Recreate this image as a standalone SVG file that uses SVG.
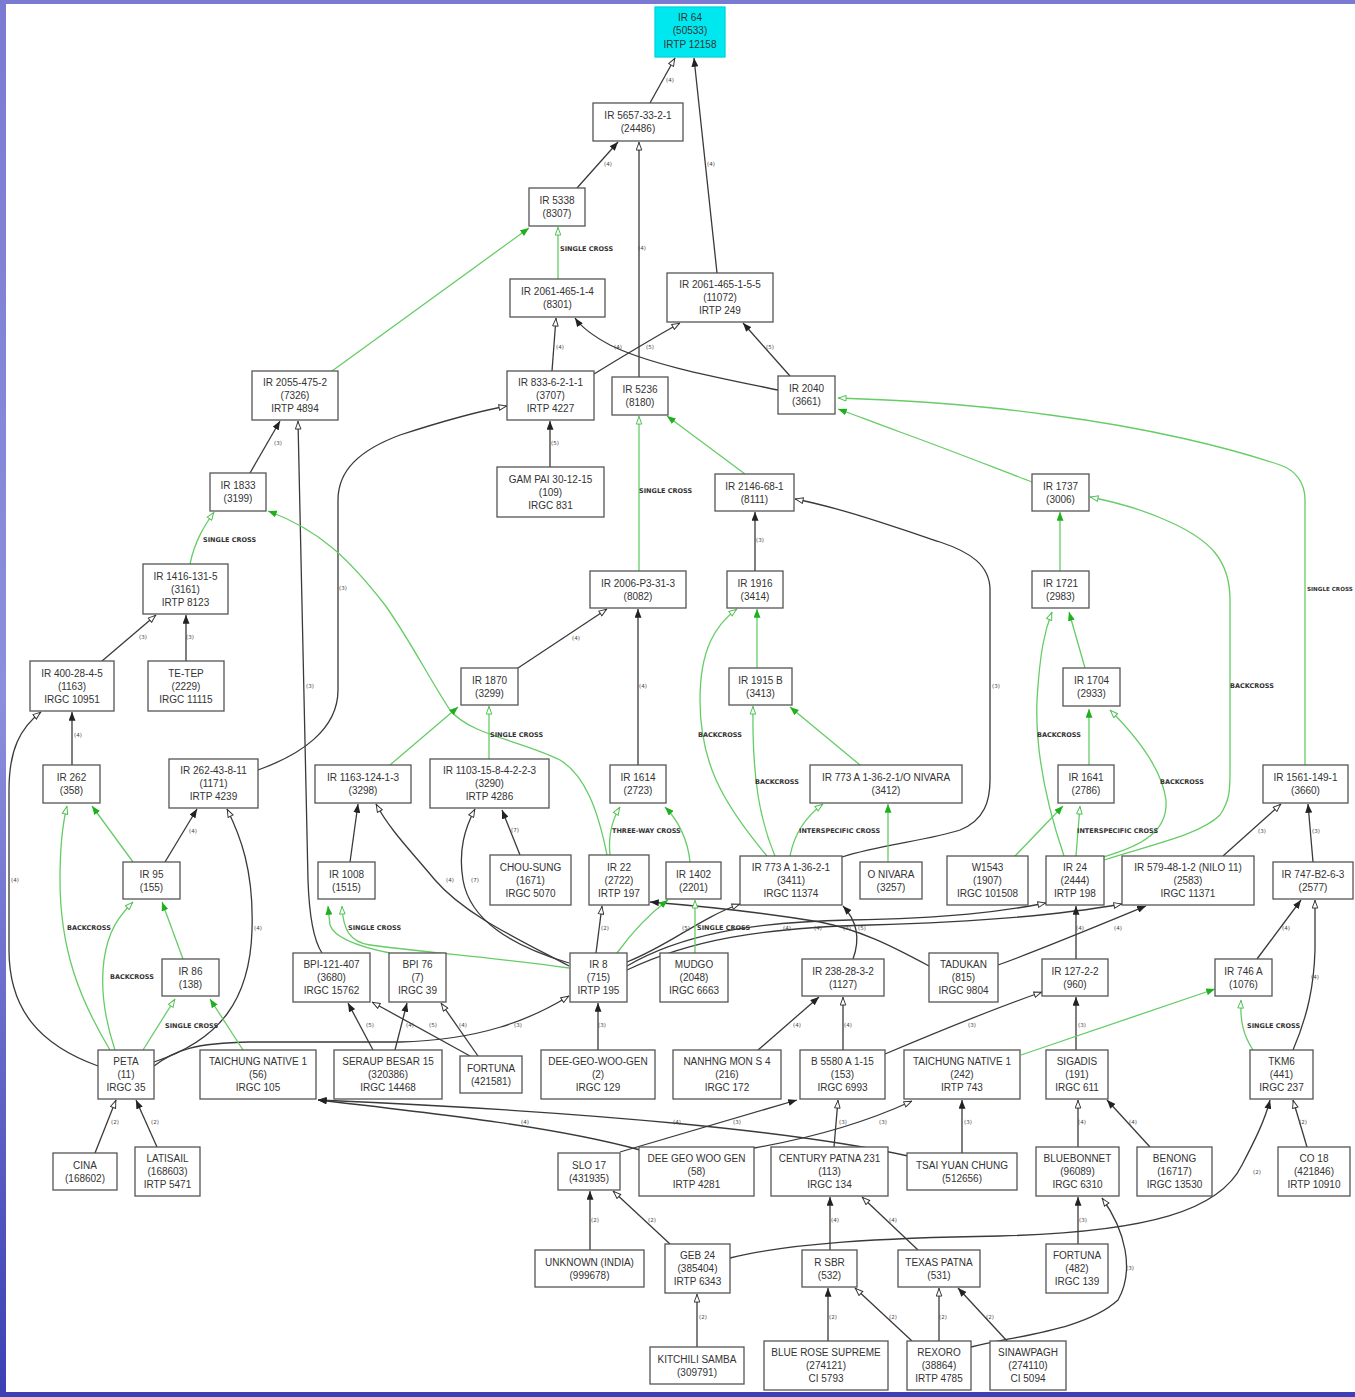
<svg xmlns="http://www.w3.org/2000/svg" width="1355" height="1397" viewBox="0 0 1355 1397">
<defs>
<linearGradient id="bg" x1="0" y1="0" x2="0" y2="1">
<stop offset="0" stop-color="#7a7ad2"/><stop offset="0.5" stop-color="#8c8fdc"/><stop offset="1" stop-color="#3c40b4"/>
</linearGradient>
<marker id="af" viewBox="0 0 10 8" refX="10" refY="4" markerWidth="9" markerHeight="7" markerUnits="userSpaceOnUse" orient="auto"><path d="M0,0 L10,4 L0,8 z" fill="#222"/></marker>
<marker id="ao" viewBox="0 0 10 8" refX="10" refY="4" markerWidth="9" markerHeight="7" markerUnits="userSpaceOnUse" orient="auto"><path d="M0.8,0.8 L9.3,4 L0.8,7.2 z" fill="#fff" stroke="#333" stroke-width="1.1"/></marker>
<marker id="gf" viewBox="0 0 10 8" refX="10" refY="4" markerWidth="9" markerHeight="7" markerUnits="userSpaceOnUse" orient="auto"><path d="M0,0 L10,4 L0,8 z" fill="#1fb01f"/></marker>
<marker id="go" viewBox="0 0 10 8" refX="10" refY="4" markerWidth="9" markerHeight="7" markerUnits="userSpaceOnUse" orient="auto"><path d="M0.8,0.8 L9.3,4 L0.8,7.2 z" fill="#fff" stroke="#4cbf4c" stroke-width="1.1"/></marker>
</defs>
<style>
.n rect{fill:#fff;stroke:#555;stroke-width:1.3}
.n text{font-family:"Liberation Sans",Arial,sans-serif;font-size:10px;fill:#333;text-anchor:middle}
.e{fill:none;stroke:#3a3a3a;stroke-width:1.3}
.ef{marker-end:url(#af)}
.eo{marker-end:url(#ao)}
.g{fill:none;stroke:#66cc66;stroke-width:1.3}
.gf{marker-end:url(#gf)}
.go{marker-end:url(#go)}
.el{font-family:"DejaVu Sans",sans-serif;font-size:5.5px;fill:#444;text-anchor:middle}
.xl{font-family:"DejaVu Sans",sans-serif;font-size:6.5px;font-weight:bold;fill:#333}
</style>
<rect x="0" y="0" width="1355" height="1397" fill="url(#bg)"/>
<rect x="6" y="4" width="1349" height="1388" fill="#fff"/>

<g id="connectors">
<path class="e eo" d="M650,103 L675,58"/>
<path class="e ef" d="M717,273 L694,58"/>
<path class="e ef" d="M577,188 L618,142"/>
<path class="e eo" d="M639,377 L639,142"/>
<path class="e eo" d="M552,371 L556,318"/>
<path class="e eo" d="M594,374 C620,358 650,340 680,323"/>
<path class="e ef" d="M778,390 C720,378 650,365 610,345 C595,337 582,328 575,318"/>
<path class="e ef" d="M790,376 L743,323"/>
<path class="e ef" d="M550,467 L550,421"/>
<path class="e eo" d="M258,770 C300,755 338,730 338,690 L338,500 C338,470 360,450 400,435 C440,422 475,412 507,406"/>
<path class="e ef" d="M250,473 L280,421"/>
<path class="e eo" d="M322,953 C312,938 309,910 308,880 L298,421"/>
<path class="e eo" d="M102,661 L156,615"/>
<path class="e ef" d="M186,661 L186,615"/>
<path class="e ef" d="M72,765 L72,712"/>
<path class="e eo" d="M98,1066 C40,1045 9,1010 9,950 L9,790 C9,750 20,728 41,712"/>
<path class="e ef" d="M165,862 L197,809"/>
<path class="e eo" d="M154,1062 C220,1040 250,1000 252,930 C254,870 240,835 227,809"/>
<path class="e eo" d="M154,1066 C175,1050 195,1043 250,1042 L400,1042 C480,1040 530,1020 569,996"/>
<path class="e eo" d="M596,953 L602,906"/>
<path class="e eo" d="M569,966 C520,940 465,915 435,880 C410,850 390,830 376,804"/>
<path class="e eo" d="M569,963 C510,945 470,920 463,880 C458,850 465,828 475,809"/>
<path class="e ef" d="M520,855 L502,810"/>
<path class="e ef" d="M350,862 L358,804"/>
<path class="e eo" d="M627,962 C670,945 700,918 740,904"/>
<path class="e eo" d="M627,966 C680,935 750,922 850,920 C950,918 1000,912 1046,903"/>
<path class="e eo" d="M627,970 C690,940 760,928 870,925 C980,922 1060,915 1122,904"/>
<path class="e eo" d="M842,857 C880,845 930,840 960,830 C985,820 990,800 990,780 L990,590 C990,565 970,552 940,542 C880,522 840,508 795,499"/>
<path class="e ef" d="M755,571 L755,512"/>
<path class="e eo" d="M518,668 L607,609"/>
<path class="e ef" d="M638,765 L638,609"/>
<path class="e ef" d="M929,966 C890,945 860,930 820,922 C760,912 700,906 650,902"/>
<path class="e ef" d="M998,965 C1040,950 1100,925 1146,906"/>
<path class="e ef" d="M1076,959 L1076,906"/>
<path class="e ef" d="M853,959 C860,940 858,922 843,906"/>
<path class="e eo" d="M1223,856 L1281,804"/>
<path class="e ef" d="M1313,862 L1308,804"/>
<path class="e ef" d="M1257,959 L1301,900"/>
<path class="e eo" d="M1293,1050 C1308,1015 1314,985 1315,950 L1315,900"/>
<path class="e ef" d="M758,1050 L819,997"/>
<path class="e eo" d="M843,1050 L843,997"/>
<path class="e eo" d="M885,1054 C930,1035 990,1010 1042,992"/>
<path class="e ef" d="M1076,1050 L1076,997"/>
<path class="e ef" d="M373,1050 L348,1003"/>
<path class="e ef" d="M395,1050 L407,1003"/>
<path class="e eo" d="M470,1056 L372,1002"/>
<path class="e eo" d="M478,1056 L441,1003"/>
<path class="e ef" d="M598,1050 L598,1003"/>
<path class="e eo" d="M95,1153 L116,1100"/>
<path class="e ef" d="M157,1147 L136,1100"/>
<path class="e eo" d="M908,1156 C800,1132 600,1112 318,1100"/>
<path class="e ef" d="M640,1150 C560,1128 450,1115 318,1100"/>
<path class="e ef" d="M620,1152 L797,1100"/>
<path class="e eo" d="M834,1147 L838,1100"/>
<path class="e eo" d="M754,1148 C800,1140 860,1125 912,1101"/>
<path class="e ef" d="M962,1153 L962,1100"/>
<path class="e eo" d="M1078,1147 L1078,1100"/>
<path class="e ef" d="M1150,1147 L1107,1100"/>
<path class="e ef" d="M730,1258 C790,1243 880,1238 1000,1236 C1150,1232 1220,1210 1242,1165 C1255,1140 1265,1120 1270,1100"/>
<path class="e eo" d="M1307,1147 L1293,1100"/>
<path class="e ef" d="M590,1250 L590,1191"/>
<path class="e eo" d="M670,1244 L613,1191"/>
<path class="e eo" d="M697,1347 L697,1294"/>
<path class="e ef" d="M1078,1244 L1078,1197"/>
<path class="e eo" d="M971,1347 C1020,1335 1085,1330 1118,1300 C1135,1270 1125,1230 1102,1198"/>
<path class="e eo" d="M939,1341 L939,1288"/>
<path class="e ef" d="M1007,1341 L958,1288"/>
<path class="e ef" d="M830,1250 L830,1197"/>
<path class="e eo" d="M918,1250 L862,1197"/>
<path class="e ef" d="M828,1341 L828,1288"/>
<path class="e eo" d="M912,1341 L855,1288"/>

<path class="g go" d="M558,279 L558,227"/>
<path class="g gf" d="M332,371 L529,228"/>
<path class="g go" d="M190,564 C195,540 205,525 214,512"/>
<path class="g gf" d="M607,855 C598,810 585,775 560,760 C520,740 470,735 450,710 C430,680 410,640 385,605 C350,560 320,530 268,511"/>
<path class="g gf" d="M390,765 L458,707"/>
<path class="g go" d="M489,759 L489,706"/>
<path class="g gf" d="M745,474 L667,416"/>
<path class="g go" d="M639,571 L639,416"/>
<path class="g gf" d="M757,668 L757,609"/>
<path class="g go" d="M767,856 C720,800 700,760 700,700 C700,650 715,625 737,609"/>
<path class="g go" d="M775,856 C760,820 752,780 753,706"/>
<path class="g go" d="M790,856 C795,830 808,815 823,804"/>
<path class="g gf" d="M888,862 L888,804"/>
<path class="g gf" d="M860,765 L790,707"/>
<path class="g gf" d="M1032,482 C1000,470 950,450 900,432 C875,423 855,415 838,409"/>
<path class="g go" d="M1305,765 L1305,500 C1305,482 1295,470 1280,465 C1230,448 1150,428 1050,415 C980,405 900,400 838,398"/>
<path class="g gf" d="M1060,571 L1060,512"/>
<path class="g go" d="M1104,860 C1150,845 1200,835 1220,815 C1230,800 1230,790 1230,770 L1230,600 C1230,560 1210,540 1170,522 C1140,508 1115,502 1090,497"/>
<path class="g gf" d="M1085,668 L1069,612"/>
<path class="g go" d="M1064,856 C1045,800 1035,750 1037,700 C1040,650 1045,630 1052,612"/>
<path class="g gf" d="M1089,765 L1089,709"/>
<path class="g go" d="M1103,857 C1145,845 1168,830 1166,800 C1162,770 1140,740 1110,710"/>
<path class="g go" d="M1076,856 L1080,806"/>
<path class="g gf" d="M1015,856 L1063,806"/>
<path class="g gf" d="M133,862 L92,806"/>
<path class="g go" d="M110,1050 C80,1000 60,950 60,880 C60,840 63,822 67,806"/>
<path class="g go" d="M115,1050 C105,1020 100,990 104,960 C108,930 120,915 133,902"/>
<path class="g gf" d="M183,959 L162,902"/>
<path class="g go" d="M143,1050 L175,999"/>
<path class="g gf" d="M243,1050 L210,999"/>
<path class="g go" d="M610,855 C608,835 612,820 620,807"/>
<path class="g gf" d="M690,862 C688,840 678,820 665,807"/>
<path class="g gf" d="M617,953 C630,935 648,915 668,900"/>
<path class="g go" d="M695,953 L695,900"/>
<path class="g go" d="M569,968 C500,958 420,952 370,945 C350,942 343,930 342,906"/>
<path class="g gf" d="M390,953 C365,948 335,940 330,925 L328,906"/>
<path class="g gf" d="M1021,1055 L1215,989"/>
<path class="g go" d="M1253,1050 C1243,1035 1240,1020 1241,1000"/>

<g class="xl">
<text x="560" y="251">SINGLE CROSS</text>
<text x="203" y="542">SINGLE CROSS</text>
<text x="639" y="493">SINGLE CROSS</text>
<text x="490" y="737">SINGLE CROSS</text>
<text x="698" y="737">BACKCROSS</text>
<text x="755" y="784">BACKCROSS</text>
<text x="612" y="833">THREE-WAY CROSS</text>
<text x="799" y="833">INTERSPECIFIC CROSS</text>
<text x="1230" y="688">BACKCROSS</text>
<text x="1307" y="591" style="font-size:5.6px">SINGLE CROSS</text>
<text x="1037" y="737">BACKCROSS</text>
<text x="1160" y="784">BACKCROSS</text>
<text x="1077" y="833">INTERSPECIFIC CROSS</text>
<text x="67" y="930">BACKCROSS</text>
<text x="110" y="979">BACKCROSS</text>
<text x="165" y="1028">SINGLE CROSS</text>
<text x="348" y="930">SINGLE CROSS</text>
<text x="697" y="930">SINGLE CROSS</text>
<text x="1247" y="1028">SINGLE CROSS</text>
</g>
<g class="el">
<text x="670" y="82">(4)</text><text x="711" y="166">(4)</text><text x="608" y="166">(4)</text><text x="642" y="250">(4)</text>
<text x="560" y="349">(4)</text><text x="618" y="349">(4)</text><text x="650" y="349">(5)</text><text x="770" y="349">(5)</text>
<text x="555" y="445">(5)</text><text x="278" y="445">(3)</text><text x="343" y="590">(3)</text><text x="310" y="688">(3)</text>
<text x="143" y="639">(3)</text><text x="190" y="639">(3)</text><text x="78" y="737">(4)</text><text x="15" y="882">(4)</text>
<text x="193" y="833">(4)</text><text x="258" y="930">(4)</text><text x="518" y="1027">(3)</text><text x="760" y="542">(3)</text>
<text x="576" y="640">(4)</text><text x="643" y="688">(4)</text><text x="515" y="832">(7)</text><text x="450" y="882">(4)</text>
<text x="475" y="882">(7)</text><text x="996" y="688">(3)</text><text x="1262" y="833">(3)</text><text x="1316" y="833">(3)</text>
<text x="1080" y="930">(4)</text><text x="1118" y="930">(4)</text><text x="686" y="930">(5)</text><text x="787" y="930">(4)</text>
<text x="818" y="930">(4)</text><text x="847" y="930">(3)</text><text x="862" y="930">(5)</text><text x="605" y="930">(2)</text>
<text x="797" y="1027">(4)</text><text x="848" y="1027">(4)</text><text x="972" y="1027">(3)</text><text x="1082" y="1027">(3)</text>
<text x="1315" y="979">(4)</text><text x="1286" y="930">(4)</text><text x="370" y="1027">(5)</text><text x="410" y="1027">(4)</text>
<text x="433" y="1027">(5)</text><text x="463" y="1027">(4)</text><text x="602" y="1027">(3)</text>
<text x="115" y="1124">(2)</text><text x="155" y="1124">(2)</text><text x="525" y="1124">(4)</text><text x="677" y="1124">(4)</text>
<text x="737" y="1124">(3)</text><text x="843" y="1124">(3)</text><text x="883" y="1124">(3)</text><text x="968" y="1124">(3)</text>
<text x="1082" y="1124">(4)</text><text x="1133" y="1124">(4)</text><text x="1303" y="1124">(2)</text>
<text x="595" y="1222">(2)</text><text x="652" y="1222">(2)</text><text x="835" y="1222">(4)</text><text x="893" y="1222">(4)</text>
<text x="1083" y="1222">(3)</text><text x="1257" y="1174">(2)</text><text x="703" y="1319">(2)</text><text x="833" y="1319">(2)</text>
<text x="893" y="1319">(2)</text><text x="943" y="1319">(2)</text><text x="990" y="1319">(2)</text><text x="1130" y="1270">(3)</text>
</g>
</g>

<g id="n_ir64" class="n"><rect x="655" y="7" width="70" height="50" style="fill:#00e8ef;stroke:#00d4dc"/><text><tspan x="690" y="20.5">IR 64</tspan><tspan x="690" y="34">(50533)</tspan><tspan x="690" y="47.5">IRTP 12158</tspan></text></g>
<g id="n_ir5657" class="n"><rect x="593" y="103" width="90" height="38"/><text><tspan x="638" y="119">IR 5657-33-2-1</tspan><tspan x="638" y="132">(24486)</tspan></text></g>
<g id="n_ir5338" class="n"><rect x="529" y="188" width="56" height="38"/><text><tspan x="557" y="204">IR 5338</tspan><tspan x="557" y="217">(8307)</tspan></text></g>
<g id="n_ir2061_4" class="n"><rect x="510" y="279" width="95" height="38"/><text><tspan x="557.5" y="295">IR 2061-465-1-4</tspan><tspan x="557.5" y="308">(8301)</tspan></text></g>
<g id="n_ir2061_55" class="n"><rect x="667" y="273" width="106" height="49"/><text><tspan x="720" y="288">IR 2061-465-1-5-5</tspan><tspan x="720" y="301">(11072)</tspan><tspan x="720" y="314">IRTP 249</tspan></text></g>
<g id="n_ir2055" class="n"><rect x="252" y="371" width="86" height="49"/><text><tspan x="295" y="386">IR 2055-475-2</tspan><tspan x="295" y="399">(7326)</tspan><tspan x="295" y="412">IRTP 4894</tspan></text></g>
<g id="n_ir833" class="n"><rect x="507" y="371" width="87" height="49"/><text><tspan x="550.5" y="386">IR 833-6-2-1-1</tspan><tspan x="550.5" y="399">(3707)</tspan><tspan x="550.5" y="412">IRTP 4227</tspan></text></g>
<g id="n_ir5236" class="n"><rect x="612" y="377" width="56" height="38"/><text><tspan x="640" y="393">IR 5236</tspan><tspan x="640" y="406">(8180)</tspan></text></g>
<g id="n_ir2040" class="n"><rect x="778" y="376" width="57" height="38"/><text><tspan x="806.5" y="392">IR 2040</tspan><tspan x="806.5" y="405">(3661)</tspan></text></g>
<g id="n_gampai" class="n"><rect x="497" y="467" width="107" height="50"/><text><tspan x="550.5" y="482.5">GAM PAI 30-12-15</tspan><tspan x="550.5" y="495.5">(109)</tspan><tspan x="550.5" y="508.5">IRGC 831</tspan></text></g>
<g id="n_ir2146" class="n"><rect x="715" y="474" width="79" height="37"/><text><tspan x="754.5" y="489.5">IR 2146-68-1</tspan><tspan x="754.5" y="502.5">(8111)</tspan></text></g>
<g id="n_ir1737" class="n"><rect x="1032" y="474" width="57" height="37"/><text><tspan x="1060.5" y="489.5">IR 1737</tspan><tspan x="1060.5" y="502.5">(3006)</tspan></text></g>
<g id="n_ir1833" class="n"><rect x="210" y="473" width="56" height="38"/><text><tspan x="238" y="489">IR 1833</tspan><tspan x="238" y="502">(3199)</tspan></text></g>
<g id="n_ir1416" class="n"><rect x="143" y="564" width="85" height="50"/><text><tspan x="185.5" y="579.5">IR 1416-131-5</tspan><tspan x="185.5" y="592.5">(3161)</tspan><tspan x="185.5" y="605.5">IRTP 8123</tspan></text></g>
<g id="n_ir2006" class="n"><rect x="590" y="571" width="96" height="37"/><text><tspan x="638" y="586.5">IR 2006-P3-31-3</tspan><tspan x="638" y="599.5">(8082)</tspan></text></g>
<g id="n_ir1916" class="n"><rect x="727" y="571" width="56" height="37"/><text><tspan x="755" y="586.5">IR 1916</tspan><tspan x="755" y="599.5">(3414)</tspan></text></g>
<g id="n_ir1721" class="n"><rect x="1032" y="571" width="57" height="37"/><text><tspan x="1060.5" y="586.5">IR 1721</tspan><tspan x="1060.5" y="599.5">(2983)</tspan></text></g>
<g id="n_ir400" class="n"><rect x="30" y="661" width="84" height="50"/><text><tspan x="72" y="676.5">IR 400-28-4-5</tspan><tspan x="72" y="689.5">(1163)</tspan><tspan x="72" y="702.5">IRGC 10951</tspan></text></g>
<g id="n_tetep" class="n"><rect x="148" y="661" width="76" height="50"/><text><tspan x="186" y="676.5">TE-TEP</tspan><tspan x="186" y="689.5">(2229)</tspan><tspan x="186" y="702.5">IRGC 11115</tspan></text></g>
<g id="n_ir1870" class="n"><rect x="461" y="668" width="57" height="37"/><text><tspan x="489.5" y="683.5">IR 1870</tspan><tspan x="489.5" y="696.5">(3299)</tspan></text></g>
<g id="n_ir1915b" class="n"><rect x="729" y="668" width="63" height="37"/><text><tspan x="760.5" y="683.5">IR 1915 B</tspan><tspan x="760.5" y="696.5">(3413)</tspan></text></g>
<g id="n_ir1704" class="n"><rect x="1063" y="668" width="57" height="38"/><text><tspan x="1091.5" y="684">IR 1704</tspan><tspan x="1091.5" y="697">(2933)</tspan></text></g>
<g id="n_ir262" class="n"><rect x="43" y="765" width="57" height="38"/><text><tspan x="71.5" y="781">IR 262</tspan><tspan x="71.5" y="794">(358)</tspan></text></g>
<g id="n_ir262_43" class="n"><rect x="169" y="759" width="89" height="49"/><text><tspan x="213.5" y="774">IR 262-43-8-11</tspan><tspan x="213.5" y="787">(1171)</tspan><tspan x="213.5" y="800">IRTP 4239</tspan></text></g>
<g id="n_ir1163" class="n"><rect x="315" y="765" width="96" height="38"/><text><tspan x="363" y="781">IR 1163-124-1-3</tspan><tspan x="363" y="794">(3298)</tspan></text></g>
<g id="n_ir1103" class="n"><rect x="430" y="759" width="119" height="49"/><text><tspan x="489.5" y="774">IR 1103-15-8-4-2-2-3</tspan><tspan x="489.5" y="787">(3290)</tspan><tspan x="489.5" y="800">IRTP 4286</tspan></text></g>
<g id="n_ir1614" class="n"><rect x="610" y="765" width="56" height="38"/><text><tspan x="638" y="781">IR 1614</tspan><tspan x="638" y="794">(2723)</tspan></text></g>
<g id="n_ir773o" class="n"><rect x="810" y="765" width="152" height="38"/><text><tspan x="886" y="781">IR 773 A 1-36-2-1/O NIVARA</tspan><tspan x="886" y="794">(3412)</tspan></text></g>
<g id="n_ir1641" class="n"><rect x="1058" y="765" width="56" height="38"/><text><tspan x="1086" y="781">IR 1641</tspan><tspan x="1086" y="794">(2786)</tspan></text></g>
<g id="n_ir1561" class="n"><rect x="1263" y="765" width="85" height="38"/><text><tspan x="1305.5" y="781">IR 1561-149-1</tspan><tspan x="1305.5" y="794">(3660)</tspan></text></g>
<g id="n_ir95" class="n"><rect x="123" y="862" width="57" height="37"/><text><tspan x="151.5" y="877.5">IR 95</tspan><tspan x="151.5" y="890.5">(155)</tspan></text></g>
<g id="n_ir1008" class="n"><rect x="318" y="862" width="57" height="37"/><text><tspan x="346.5" y="877.5">IR 1008</tspan><tspan x="346.5" y="890.5">(1515)</tspan></text></g>
<g id="n_chousung" class="n"><rect x="490" y="855" width="81" height="50"/><text><tspan x="530.5" y="870.5">CHOU-SUNG</tspan><tspan x="530.5" y="883.5">(1671)</tspan><tspan x="530.5" y="896.5">IRGC 5070</tspan></text></g>
<g id="n_ir22" class="n"><rect x="589" y="855" width="60" height="50"/><text><tspan x="619" y="870.5">IR 22</tspan><tspan x="619" y="883.5">(2722)</tspan><tspan x="619" y="896.5">IRTP 197</tspan></text></g>
<g id="n_ir1402" class="n"><rect x="666" y="862" width="55" height="37"/><text><tspan x="693.5" y="877.5">IR 1402</tspan><tspan x="693.5" y="890.5">(2201)</tspan></text></g>
<g id="n_ir773" class="n"><rect x="740" y="856" width="102" height="49"/><text><tspan x="791" y="871">IR 773 A 1-36-2-1</tspan><tspan x="791" y="884">(3411)</tspan><tspan x="791" y="897">IRGC 11374</tspan></text></g>
<g id="n_onivara" class="n"><rect x="860" y="862" width="62" height="37"/><text><tspan x="891" y="877.5">O NIVARA</tspan><tspan x="891" y="890.5">(3257)</tspan></text></g>
<g id="n_w1543" class="n"><rect x="947" y="856" width="81" height="49"/><text><tspan x="987.5" y="871">W1543</tspan><tspan x="987.5" y="884">(1907)</tspan><tspan x="987.5" y="897">IRGC 101508</tspan></text></g>
<g id="n_ir24" class="n"><rect x="1046" y="856" width="58" height="49"/><text><tspan x="1075" y="871">IR 24</tspan><tspan x="1075" y="884">(2444)</tspan><tspan x="1075" y="897">IRTP 198</tspan></text></g>
<g id="n_ir579" class="n"><rect x="1122" y="856" width="132" height="49"/><text><tspan x="1188" y="871">IR 579-48-1-2 (NILO 11)</tspan><tspan x="1188" y="884">(2583)</tspan><tspan x="1188" y="897">IRGC 11371</tspan></text></g>
<g id="n_ir747" class="n"><rect x="1273" y="862" width="80" height="37"/><text><tspan x="1313" y="877.5">IR 747-B2-6-3</tspan><tspan x="1313" y="890.5">(2577)</tspan></text></g>
<g id="n_ir86" class="n"><rect x="162" y="959" width="57" height="37"/><text><tspan x="190.5" y="974.5">IR 86</tspan><tspan x="190.5" y="987.5">(138)</tspan></text></g>
<g id="n_bpi121" class="n"><rect x="293" y="953" width="77" height="49"/><text><tspan x="331.5" y="968">BPI-121-407</tspan><tspan x="331.5" y="981">(3680)</tspan><tspan x="331.5" y="994">IRGC 15762</tspan></text></g>
<g id="n_bpi76" class="n"><rect x="389" y="953" width="57" height="49"/><text><tspan x="417.5" y="968">BPI 76</tspan><tspan x="417.5" y="981">(7)</tspan><tspan x="417.5" y="994">IRGC 39</tspan></text></g>
<g id="n_ir8" class="n"><rect x="570" y="953" width="57" height="49"/><text><tspan x="598.5" y="968">IR 8</tspan><tspan x="598.5" y="981">(715)</tspan><tspan x="598.5" y="994">IRTP 195</tspan></text></g>
<g id="n_mudgo" class="n"><rect x="660" y="953" width="68" height="49"/><text><tspan x="694" y="968">MUDGO</tspan><tspan x="694" y="981">(2048)</tspan><tspan x="694" y="994">IRGC 6663</tspan></text></g>
<g id="n_ir238" class="n"><rect x="802" y="959" width="82" height="37"/><text><tspan x="843" y="974.5">IR 238-28-3-2</tspan><tspan x="843" y="987.5">(1127)</tspan></text></g>
<g id="n_tadukan" class="n"><rect x="929" y="953" width="69" height="49"/><text><tspan x="963.5" y="968">TADUKAN</tspan><tspan x="963.5" y="981">(815)</tspan><tspan x="963.5" y="994">IRGC 9804</tspan></text></g>
<g id="n_ir127" class="n"><rect x="1042" y="959" width="66" height="37"/><text><tspan x="1075" y="974.5">IR 127-2-2</tspan><tspan x="1075" y="987.5">(960)</tspan></text></g>
<g id="n_ir746a" class="n"><rect x="1215" y="959" width="57" height="37"/><text><tspan x="1243.5" y="974.5">IR 746 A</tspan><tspan x="1243.5" y="987.5">(1076)</tspan></text></g>
<g id="n_peta" class="n"><rect x="98" y="1050" width="56" height="49"/><text><tspan x="126" y="1065">PETA</tspan><tspan x="126" y="1078">(11)</tspan><tspan x="126" y="1091">IRGC 35</tspan></text></g>
<g id="n_tn1_56" class="n"><rect x="200" y="1050" width="116" height="49"/><text><tspan x="258" y="1065">TAICHUNG NATIVE 1</tspan><tspan x="258" y="1078">(56)</tspan><tspan x="258" y="1091">IRGC 105</tspan></text></g>
<g id="n_seraup" class="n"><rect x="334" y="1050" width="108" height="49"/><text><tspan x="388" y="1065">SERAUP BESAR 15</tspan><tspan x="388" y="1078">(320386)</tspan><tspan x="388" y="1091">IRGC 14468</tspan></text></g>
<g id="n_fortuna1" class="n"><rect x="460" y="1056" width="62" height="37"/><text><tspan x="491" y="1071.5">FORTUNA</tspan><tspan x="491" y="1084.5">(421581)</tspan></text></g>
<g id="n_dgwg2" class="n"><rect x="541" y="1050" width="114" height="49"/><text><tspan x="598" y="1065">DEE-GEO-WOO-GEN</tspan><tspan x="598" y="1078">(2)</tspan><tspan x="598" y="1091">IRGC 129</tspan></text></g>
<g id="n_nanhng" class="n"><rect x="673" y="1050" width="108" height="49"/><text><tspan x="727" y="1065">NANHNG MON S 4</tspan><tspan x="727" y="1078">(216)</tspan><tspan x="727" y="1091">IRGC 172</tspan></text></g>
<g id="n_b5580" class="n"><rect x="800" y="1050" width="85" height="49"/><text><tspan x="842.5" y="1065">B 5580 A 1-15</tspan><tspan x="842.5" y="1078">(153)</tspan><tspan x="842.5" y="1091">IRGC 6993</tspan></text></g>
<g id="n_tn1_242" class="n"><rect x="904" y="1050" width="116" height="49"/><text><tspan x="962" y="1065">TAICHUNG NATIVE 1</tspan><tspan x="962" y="1078">(242)</tspan><tspan x="962" y="1091">IRTP 743</tspan></text></g>
<g id="n_sigadis" class="n"><rect x="1046" y="1050" width="62" height="49"/><text><tspan x="1077" y="1065">SIGADIS</tspan><tspan x="1077" y="1078">(191)</tspan><tspan x="1077" y="1091">IRGC 611</tspan></text></g>
<g id="n_tkm6" class="n"><rect x="1250" y="1050" width="63" height="49"/><text><tspan x="1281.5" y="1065">TKM6</tspan><tspan x="1281.5" y="1078">(441)</tspan><tspan x="1281.5" y="1091">IRGC 237</tspan></text></g>
<g id="n_cina" class="n"><rect x="53" y="1153" width="64" height="37"/><text><tspan x="85" y="1168.5">CINA</tspan><tspan x="85" y="1181.5">(168602)</tspan></text></g>
<g id="n_latisail" class="n"><rect x="135" y="1147" width="65" height="49"/><text><tspan x="167.5" y="1162">LATISAIL</tspan><tspan x="167.5" y="1175">(168603)</tspan><tspan x="167.5" y="1188">IRTP 5471</tspan></text></g>
<g id="n_slo17" class="n"><rect x="558" y="1153" width="62" height="37"/><text><tspan x="589" y="1168.5">SLO 17</tspan><tspan x="589" y="1181.5">(431935)</tspan></text></g>
<g id="n_dgwg58" class="n"><rect x="639" y="1147" width="115" height="49"/><text><tspan x="696.5" y="1162">DEE GEO WOO GEN</tspan><tspan x="696.5" y="1175">(58)</tspan><tspan x="696.5" y="1188">IRTP 4281</tspan></text></g>
<g id="n_century" class="n"><rect x="771" y="1147" width="117" height="49"/><text><tspan x="829.5" y="1162">CENTURY PATNA 231</tspan><tspan x="829.5" y="1175">(113)</tspan><tspan x="829.5" y="1188">IRGC 134</tspan></text></g>
<g id="n_tsai" class="n"><rect x="907" y="1153" width="110" height="37"/><text><tspan x="962" y="1168.5">TSAI YUAN CHUNG</tspan><tspan x="962" y="1181.5">(512656)</tspan></text></g>
<g id="n_bluebonnet" class="n"><rect x="1036" y="1147" width="83" height="49"/><text><tspan x="1077.5" y="1162">BLUEBONNET</tspan><tspan x="1077.5" y="1175">(96089)</tspan><tspan x="1077.5" y="1188">IRGC 6310</tspan></text></g>
<g id="n_benong" class="n"><rect x="1137" y="1147" width="75" height="49"/><text><tspan x="1174.5" y="1162">BENONG</tspan><tspan x="1174.5" y="1175">(16717)</tspan><tspan x="1174.5" y="1188">IRGC 13530</tspan></text></g>
<g id="n_co18" class="n"><rect x="1278" y="1147" width="72" height="49"/><text><tspan x="1314" y="1162">CO 18</tspan><tspan x="1314" y="1175">(421846)</tspan><tspan x="1314" y="1188">IRTP 10910</tspan></text></g>
<g id="n_unknown" class="n"><rect x="535" y="1250" width="109" height="37"/><text><tspan x="589.5" y="1265.5">UNKNOWN (INDIA)</tspan><tspan x="589.5" y="1278.5">(999678)</tspan></text></g>
<g id="n_geb24" class="n"><rect x="665" y="1244" width="65" height="49"/><text><tspan x="697.5" y="1259">GEB 24</tspan><tspan x="697.5" y="1272">(385404)</tspan><tspan x="697.5" y="1285">IRTP 6343</tspan></text></g>
<g id="n_rsbr" class="n"><rect x="802" y="1250" width="55" height="37"/><text><tspan x="829.5" y="1265.5">R SBR</tspan><tspan x="829.5" y="1278.5">(532)</tspan></text></g>
<g id="n_texas" class="n"><rect x="898" y="1250" width="82" height="37"/><text><tspan x="939" y="1265.5">TEXAS PATNA</tspan><tspan x="939" y="1278.5">(531)</tspan></text></g>
<g id="n_fortuna2" class="n"><rect x="1046" y="1244" width="62" height="49"/><text><tspan x="1077" y="1259">FORTUNA</tspan><tspan x="1077" y="1272">(482)</tspan><tspan x="1077" y="1285">IRGC 139</tspan></text></g>
<g id="n_kitchili" class="n"><rect x="650" y="1347" width="94" height="37"/><text><tspan x="697" y="1362.5">KITCHILI SAMBA</tspan><tspan x="697" y="1375.5">(309791)</tspan></text></g>
<g id="n_bluerose" class="n"><rect x="764" y="1341" width="124" height="49"/><text><tspan x="826" y="1356">BLUE ROSE SUPREME</tspan><tspan x="826" y="1369">(274121)</tspan><tspan x="826" y="1382">CI 5793</tspan></text></g>
<g id="n_rexoro" class="n"><rect x="907" y="1341" width="64" height="49"/><text><tspan x="939" y="1356">REXORO</tspan><tspan x="939" y="1369">(38864)</tspan><tspan x="939" y="1382">IRTP 4785</tspan></text></g>
<g id="n_sinawpagh" class="n"><rect x="990" y="1341" width="76" height="49"/><text><tspan x="1028" y="1356">SINAWPAGH</tspan><tspan x="1028" y="1369">(274110)</tspan><tspan x="1028" y="1382">CI 5094</tspan></text></g>
</svg>
